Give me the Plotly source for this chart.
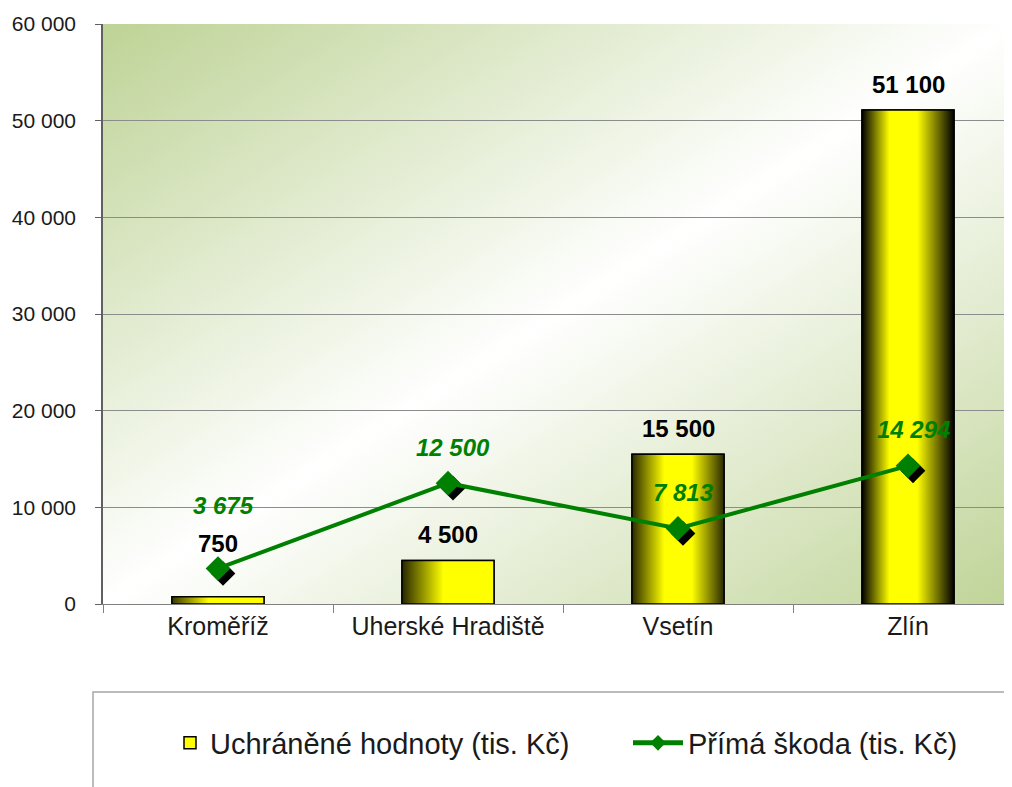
import base64
import plotly.graph_objects as go

# ---------------- data ----------------
categories = ["Kroměříž", "Uherské Hradiště", "Vsetín", "Zlín"]
protected_values = [750, 4500, 15500, 51100]      # Uchráněné hodnoty (tis. Kč)
direct_damage = [3675, 12500, 7813, 14294]         # Přímá škoda (tis. Kč)
y_tick_values = [0, 10000, 20000, 30000, 40000, 50000, 60000]
bar_name = "Uchráněné hodnoty (tis. Kč)"
line_name = "Přímá škoda (tis. Kč)"


def fmt(v):
    return f"{v:,}".replace(",", " ")


# ---------------- geometry / style ----------------
PAGE_OFF = 8                      # default body margin of the html page
W, H = 1012 - PAGE_OFF, 787 - PAGE_OFF
ML, MT, MB, MR = 103 - PAGE_OFF, 24 - PAGE_OFF, 787 - 604, 0
plot_w = W - ML - MR
plot_h = H - MT - MB
cat_px = 230.0
x_range = [-0.5, -0.5 + plot_w / cat_px]
y_range = [0, 60000]
bar_width = 0.4
shadow_dx = 5 / cat_px
shadow_dy = 5 * (y_range[1] - y_range[0]) / plot_h

FONT = "Liberation Sans, Arial, sans-serif"
GREEN = "#008000"
YELLOW = "#ffff00"


def px_x(page_x):
    return (page_x - PAGE_OFF - ML) / plot_w


def px_y(page_y):
    return (plot_h - (page_y - PAGE_OFF - MT)) / plot_h


# bar shading gradients (style, one per bar)
bar_gradients = [
    [[0, "#3a3a00"], [0.4, YELLOW], [1, YELLOW]],
    [[0, "#262600"], [0.45, YELLOW], [1, YELLOW]],
    [[0, "#2a2a00"], [0.35, YELLOW], [0.65, YELLOW], [1, "#2a2a00"]],
    [[0, "#000000"], [0.3, YELLOW], [0.6, YELLOW], [1, "#000000"]],
]

# plot-area background gradient (decoration)
svg = (
    f'<svg xmlns="http://www.w3.org/2000/svg" width="{plot_w}" height="{plot_h}" '
    f'viewBox="0 0 {plot_w} {plot_h}" preserveAspectRatio="none">'
    '<defs><linearGradient id="g" x1="0" y1="0" x2="1" y2="1">'
    '<stop offset="0" stop-color="#bed396"/>'
    '<stop offset="0.5" stop-color="#ffffff"/>'
    '<stop offset="1" stop-color="#c0d498"/>'
    '</linearGradient></defs>'
    f'<rect x="0" y="0" width="{plot_w}" height="{plot_h}" fill="url(#g)"/></svg>'
)
bg_src = "data:image/svg+xml;base64," + base64.b64encode(svg.encode()).decode()

fig = go.Figure()

# the bars (legend + hover)
fig.add_trace(go.Bar(
    x=categories, y=protected_values, name=bar_name, width=bar_width,
    marker=dict(color=YELLOW, line=dict(color="black", width=1.5)),
    xaxis="x", yaxis="y", legend="legend",
))

# gradient shading of each bar, drawn on an index axis aligned with the categories
for i, v in enumerate(protected_values):
    x0, x1 = i - bar_width / 2, i + bar_width / 2
    fig.add_trace(go.Scatter(
        x=[x0, x1, x1, x0, x0], y=[0, 0, v, v, 0], mode="lines",
        fill="toself", fillcolor=YELLOW,
        fillgradient=dict(type="horizontal", colorscale=bar_gradients[i]),
        line=dict(color="black", width=1.5),
        showlegend=False, hoverinfo="skip", xaxis="x2", yaxis="y2",
    ))

# marker shadow (drawn on slightly shifted overlay axes)
fig.add_trace(go.Scatter(
    x=categories, y=direct_damage, mode="markers", showlegend=False,
    hoverinfo="skip",
    marker=dict(symbol="diamond", size=19, color="black"),
    xaxis="x3", yaxis="y3",
))

fig.add_trace(go.Scatter(
    x=categories, y=direct_damage, name=line_name, mode="lines+markers",
    line=dict(color=GREEN, width=4),
    marker=dict(symbol="diamond", size=19, color=GREEN),
    xaxis="x4", yaxis="y4", legend="legend2",
))

annotations = []
for i, (c, v) in enumerate(zip(categories, protected_values)):
    annotations.append(dict(
        x=c, y=v, xref="x", yref="y", text=f"<b>{fmt(v)}</b>", showarrow=False,
        yanchor="middle", yshift=53 if i == 0 else 26,
        font=dict(family=FONT, size=24, color="black"),
    ))
for i, (c, v) in enumerate(zip(categories, direct_damage)):
    annotations.append(dict(
        x=c, y=v, xref="x", yref="y", text=f"<b><i>{fmt(v)}</i></b>", showarrow=False,
        yanchor="middle", yshift=63 if i == 0 else 36, xshift=5,
        font=dict(family=FONT, size=24, color=GREEN),
    ))

hidden_cat_x = dict(type="category", categoryorder="array", categoryarray=categories,
                    overlaying="x", visible=False, showgrid=False)
hidden_y = dict(overlaying="y", visible=False, showgrid=False)

legend_common = dict(
    orientation="h", xanchor="left", yanchor="middle", y=px_y(743),
    font=dict(family=FONT, size=29, color="#1a1a1a"),
    bgcolor="rgba(0,0,0,0)", borderwidth=0,
)

fig.update_layout(
    width=W, height=H,
    margin=dict(l=ML, r=MR, t=MT, b=MB),
    paper_bgcolor="white", plot_bgcolor="rgba(0,0,0,0)",
    separators=". ",
    font=dict(family=FONT, color="#1a1a1a"),
    barmode="overlay",
    xaxis=dict(
        type="category", categoryorder="array", categoryarray=categories,
        range=x_range, showline=True, linecolor="#808080", linewidth=1,
        ticks="outside", tickson="boundaries", ticklen=8, tickcolor="#808080",
        tickfont=dict(family=FONT, size=25, color="#1a1a1a"),
        showgrid=False, zeroline=False, fixedrange=True,
    ),
    yaxis=dict(
        range=y_range, tickvals=y_tick_values, ticktext=[fmt(v) for v in y_tick_values],
        showgrid=True, gridcolor="#8c8c8c", gridwidth=1,
        showline=True, linecolor="#606060", linewidth=1.5,
        ticks="outside", ticklen=6, tickcolor="#606060",
        ticklabelstandoff=15,
        tickfont=dict(family=FONT, size=21, color="#1a1a1a"),
        zeroline=False, fixedrange=True,
    ),
    xaxis2=dict(overlaying="x", visible=False, showgrid=False, range=x_range),
    yaxis2=dict(hidden_y, range=y_range),
    xaxis3=dict(hidden_cat_x, range=[x_range[0] - shadow_dx, x_range[1] - shadow_dx]),
    yaxis3=dict(hidden_y, range=[y_range[0] + shadow_dy, y_range[1] + shadow_dy]),
    xaxis4=dict(hidden_cat_x, range=x_range),
    yaxis4=dict(hidden_y, range=y_range),
    images=[dict(source=bg_src, xref="paper", yref="paper", x=0, y=1,
                 sizex=1, sizey=1, sizing="stretch", xanchor="left",
                 yanchor="top", layer="below")],
    shapes=[dict(type="rect", xref="paper", yref="paper",
                 x0=px_x(93), x1=1.02, y0=px_y(800), y1=px_y(692),
                 line=dict(color="#a6a6a6", width=1.5), fillcolor="rgba(0,0,0,0)")],
    legend=dict(legend_common, x=px_x(170)),
    legend2=dict(legend_common, x=px_x(628), itemwidth=50, itemsizing="constant"),
    annotations=annotations,
    showlegend=True,
)

fig.write_html("out.html")
